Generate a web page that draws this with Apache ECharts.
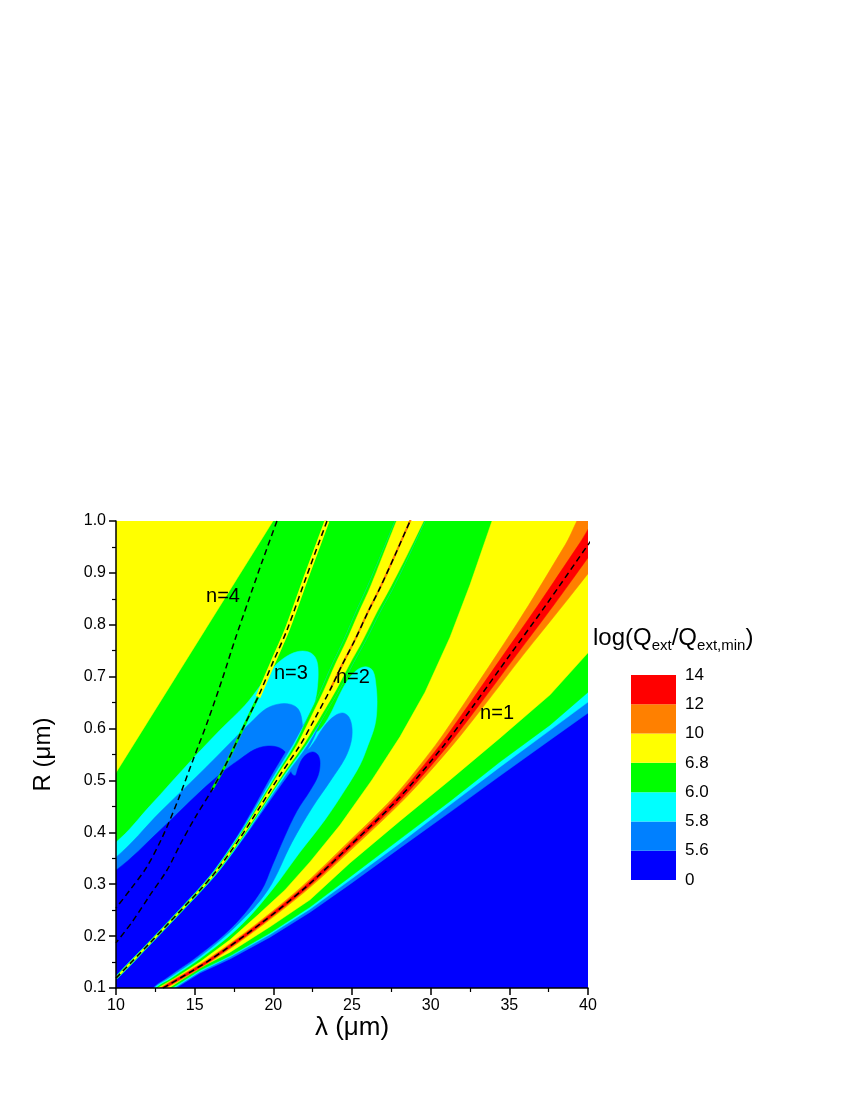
<!DOCTYPE html>
<html>
<head>
<meta charset="utf-8">
<script src="https://cdn.jsdelivr.net/npm/echarts@6.0.0/dist/echarts.min.js"></script>
<style>
  html, body { margin: 0; padding: 0; background: #fff; }
  #chart { width: 850px; height: 1100px; }
</style>
</head>
<body>
<div id="chart"></div>
<script>
// colour levels of log(Qext/Qext,min), bottom to top
const levelLabels = ['0', '5.6', '5.8', '6.0', '6.8', '10', '12', '14'];
const levelColors = ['#0000FF', '#0080FF', '#00FFFF', '#00FF00', '#FFFF00', '#FF8000', '#FF0000'];

// contour boundaries, [lambda (um), R (um)]
const ulYellow = [[10, 1.0], [19.98, 1.0], [10, 0.515]];

// lower-right edge of the n=1 ridge (right edge -> bottom)
const lowerMblue = [[40, 0.630], [37.59, 0.578], [34.41, 0.509], [31.23, 0.439], [28.05, 0.370], [24.87, 0.300], [22.33, 0.246], [19.79, 0.198], [17.25, 0.156], [15.34, 0.129], [13.81, 0.1]];
const lowerCyan = [[40, 0.651], [37.59, 0.597], [34.41, 0.526], [31.23, 0.453], [28.05, 0.379], [24.87, 0.308], [22.33, 0.252], [19.79, 0.203], [17.25, 0.160], [15.34, 0.132], [13.69, 0.1]];
const lowerGreen = [[40, 0.670], [37.59, 0.607], [34.41, 0.536], [31.23, 0.460], [28.05, 0.387], [24.87, 0.314], [22.33, 0.256], [19.79, 0.206], [17.25, 0.162], [15.34, 0.134], [13.56, 0.1]];
const n1YellowLow = [[40, 0.746], [37.59, 0.665], [34.41, 0.582], [31.23, 0.501], [28.05, 0.422], [24.87, 0.341], [22.33, 0.270], [19.79, 0.218], [17.25, 0.169], [15.34, 0.139], [13.37, 0.1]];
const n1YellowHigh = [[33.90, 1.0], [32.50, 0.877], [31.23, 0.776], [29.64, 0.670], [28.05, 0.584], [26.27, 0.501], [24.24, 0.414], [22.33, 0.343], [20.74, 0.289], [19.03, 0.241], [17.25, 0.193], [15.34, 0.150], [13.75, 0.119], [12.67, 0.1]];

// low "valley" lobes between the resonances (closed just outside the frame)
const valleyCyan = [[10, 0.381], [12.16, 0.451], [14.70, 0.536], [16.61, 0.597], [18.20, 0.645], [19.15, 0.682], [19.92, 0.715], [20.68, 0.736], [21.50, 0.748], [22.20, 0.748], [22.65, 0.738], [22.84, 0.717], [22.78, 0.674], [22.52, 0.636], [22.33, 0.605],
  [22.71, 0.593], [23.16, 0.605], [23.73, 0.634], [24.24, 0.667], [24.75, 0.694], [25.32, 0.713], [25.89, 0.719], [26.33, 0.711], [26.53, 0.682], [26.59, 0.645], [26.46, 0.607], [26.02, 0.568], [25.51, 0.530], [24.56, 0.482], [23.28, 0.424], [21.70, 0.362], [19.92, 0.289], [17.95, 0.221], [15.59, 0.162], [13.50, 0.119], [12.54, 0.1],
  [12.42, 0.077], [9.30, 0.077], [9.30, 0.381]];
const valleyMblue = [[10, 0.352], [12.80, 0.439], [15.34, 0.514], [16.17, 0.539], [17.56, 0.582], [18.71, 0.616], [19.53, 0.638], [20.30, 0.647], [21.06, 0.647], [21.57, 0.638], [21.82, 0.616], [21.82, 0.588], [21.70, 0.568],
  [22.14, 0.559], [22.59, 0.574], [22.97, 0.593], [23.47, 0.613], [23.98, 0.626], [24.43, 0.630], [24.81, 0.622], [25.00, 0.601], [24.94, 0.574], [24.56, 0.543], [23.67, 0.501], [22.46, 0.447], [21.19, 0.381], [19.66, 0.289], [17.69, 0.221], [15.40, 0.162], [13.34, 0.119], [12.42, 0.1],
  [12.29, 0.077], [9.30, 0.077], [9.30, 0.352]];
const valleyBlue = [[10, 0.327], [12.80, 0.404], [15.34, 0.478], [16.93, 0.520], [17.88, 0.541], [18.77, 0.559], [19.53, 0.566], [20.30, 0.564], [20.81, 0.553], [21.06, 0.534], [21.12, 0.516],
  [21.38, 0.509], [21.57, 0.524], [21.82, 0.541], [22.14, 0.551], [22.52, 0.555], [22.84, 0.549], [22.97, 0.534], [22.84, 0.509], [22.33, 0.480], [21.50, 0.441], [20.68, 0.389], [19.92, 0.335], [19.22, 0.287], [17.50, 0.221], [15.21, 0.162], [13.18, 0.119], [12.35, 0.1],
  [12.22, 0.077], [9.30, 0.077], [9.30, 0.327]];

// resonance lines (dashed) and their ridge half-widths in lambda
const n1Line = [[12.99, 0.100], [15.97, 0.154], [19.15, 0.223], [22.01, 0.293], [24.87, 0.374], [28.05, 0.468], [30.85, 0.568], [32.69, 0.643], [35.04, 0.742], [37.33, 0.838], [40.00, 0.954], [42.03, 1.040]];
const n1Orange = [0.19, 0.22, 0.25, 0.29, 0.35, 0.41, 0.55, 0.68, 0.85, 1.10, 1.45, 1.75];
const n1Red = [0.10, 0.11, 0.13, 0.14, 0.17, 0.21, 0.27, 0.34, 0.42, 0.50, 0.60, 0.70];

const n2Line = [[10.00, 0.119], [12.16, 0.187], [15.34, 0.289], [16.42, 0.327], [17.88, 0.389], [19.15, 0.449], [20.42, 0.510], [21.70, 0.568], [22.65, 0.620], [23.60, 0.674], [24.36, 0.722], [25.19, 0.771], [26.02, 0.825], [26.78, 0.871], [27.73, 0.934], [28.69, 1.0], [29.20, 1.035]];
const n2Yellow = [0.05, 0.06, 0.06, 0.07, 0.08, 0.11, 0.15, 0.20, 0.29, 0.38, 0.45, 0.51, 0.57, 0.64, 0.76, 0.86, 0.89];
const n2Green = [0.08, 0.09, 0.10, 0.11, 0.14, 0.18, 0.24, 0.35, 0.48, 0.57, 0.64, 0.70, 0.76, 0.83, 0.89, 0.95, 1.02];
const n2Cyan = [0.10, 0.11, 0.13, 0.15, 0.19, 0.25, 0.35, 0.45, 0.48, 0.57, 0.64, 0.70, 0.76, 0.83, 0.89, 0.95, 1.02];
const n2Mblue = [0.12, 0.13, 0.15, 0.18, 0.24, 0.35, 0.51, 0.64, 0.48, 0.57, 0.64, 0.70, 0.76, 0.83, 0.89, 0.95, 1.02];

const n3Line = [[23.41, 1.0], [22.14, 0.896], [20.87, 0.790], [19.98, 0.728], [19.03, 0.661], [18.01, 0.597], [17.12, 0.539], [16.10, 0.482], [15.02, 0.428], [14.07, 0.376], [13.24, 0.327], [12.16, 0.279], [11.02, 0.227], [10.00, 0.187]];
const n4Line = [[20.23, 1.0], [19.28, 0.921], [18.39, 0.844], [17.56, 0.771], [16.74, 0.694], [15.85, 0.616], [14.89, 0.539], [13.94, 0.462], [12.92, 0.389], [11.91, 0.331], [10.89, 0.289], [10.00, 0.254]];

const modeLabels = ['n=1', 'n=2', 'n=3', 'n=4'];
const labelSpots = [[34.22, 0.630], [25.06, 0.699], [21.12, 0.707], [16.80, 0.854]];

const [blue, mblue, cyan, green, yellow, orange, red] = levelColors;
const FONT = 'Liberation Sans, Arial, sans-serif';

// polygon between line-offset edges
function band(line, half) {
  const left = line.map((p, i) => [p[0] - half[i], p[1]]);
  const right = line.map((p, i) => [p[0] + half[i], p[1]]).reverse();
  return left.concat(right);
}

function area(pts, color, z, smooth) {
  return {
    type: 'custom',
    clip: true,
    silent: true,
    animation: false,
    z: z,
    data: pts,
    encode: { x: 0, y: 1 },
    renderItem: function (params, api) {
      if (params.dataIndex !== 0) return null;
      return {
        type: 'polygon',
        shape: { points: pts.map(p => api.coord(p)), smooth: smooth || 0 },
        style: { fill: color, stroke: color, lineWidth: 0.5 }
      };
    }
  };
}

function curve(pts, color, width, dash, z) {
  return {
    type: 'line',
    data: pts,
    symbol: 'none',
    smooth: 0.3,
    silent: true,
    animation: false,
    clip: true,
    z: z,
    lineStyle: { color: color, width: width, type: dash || 'solid' }
  };
}

const chart = echarts.init(document.getElementById('chart'));

const option = {
  backgroundColor: '#fff',
  animation: false,
  textStyle: { fontFamily: FONT },
  grid: [
    { left: 116, right: 262, top: 521, bottom: 112, show: true, backgroundColor: blue, borderWidth: 0 },
    { left: 631, width: 45, top: 675, height: 205 }
  ],
  xAxis: [
    {
      type: 'value', min: 10, max: 40, interval: 5, z: 50,
      name: 'λ (μm)', nameLocation: 'middle', nameGap: 19,
      nameTextStyle: { fontSize: 26, color: '#000', fontFamily: FONT },
      axisLine: { onZero: false, lineStyle: { color: '#000', width: 1.5 } },
      axisTick: { inside: false, length: 7, lineStyle: { color: '#000', width: 1.5 } },
      minorTick: { show: true, splitNumber: 2, length: 4, lineStyle: { color: '#000', width: 1.2 } },
      axisLabel: { fontSize: 16, color: '#000', margin: 10, fontFamily: FONT },
      splitLine: { show: false }
    },
    { gridIndex: 1, type: 'value', min: 0, max: 1, show: false }
  ],
  yAxis: [
    {
      type: 'value', min: 0.1, max: 1.0, interval: 0.1, z: 50,
      name: 'R (μm)', nameLocation: 'middle', nameGap: 61, nameRotate: 90,
      nameTextStyle: { fontSize: 24, color: '#000', fontFamily: FONT },
      axisLine: { onZero: false, lineStyle: { color: '#000', width: 1.5 } },
      axisTick: { inside: false, length: 7, lineStyle: { color: '#000', width: 1.5 } },
      minorTick: { show: true, splitNumber: 2, length: 4, lineStyle: { color: '#000', width: 1.2 } },
      axisLabel: { fontSize: 16, color: '#000', margin: 10, fontFamily: FONT, formatter: v => v.toFixed(1) },
      splitLine: { show: false }
    },
    {
      gridIndex: 1, type: 'value', min: 0, max: 7, interval: 1, position: 'right',
      axisLine: { show: false }, axisTick: { show: false }, splitLine: { show: false },
      axisLabel: { fontSize: 17, color: '#000', margin: 9, fontFamily: FONT, formatter: v => levelLabels[v] }
    }
  ],
  graphic: [{
    type: 'text', left: 593, top: 626, z: 100,
    style: {
      text: '{a|log(Q}{s|ext}{a|/Q}{s|ext,min}{a|)}',
      fill: '#000',
      rich: {
        a: { fontSize: 24, fontFamily: FONT, fill: '#000' },
        s: { fontSize: 15, fontFamily: FONT, fill: '#000', padding: [16, 0, 0, 0] }
      }
    }
  }],
  series: [
    area([[10, 1], [40, 1]].concat(lowerMblue, [[10, 0.1]]), mblue, 1),
    area([[10, 1], [40, 1]].concat(lowerCyan, [[10, 0.1]]), cyan, 2),
    area([[10, 1], [40, 1]].concat(lowerGreen, [[10, 0.1]]), green, 3),
    area(ulYellow, yellow, 4),
    area(valleyCyan, cyan, 5, 0.35),
    area(valleyMblue, mblue, 6, 0.35),
    area(valleyBlue, blue, 7, 0.35),
    area(band(n2Line, n2Mblue), mblue, 8, 0.3),
    area(band(n2Line, n2Cyan), cyan, 9, 0.3),
    area(band(n2Line, n2Green), green, 10, 0.3),
    area(band(n2Line, n2Yellow), yellow, 11, 0.3),
    area([[40, 1]].concat(n1YellowHigh, n1YellowLow.slice().reverse()), yellow, 12),
    area(band(n1Line, n1Orange), orange, 13, 0.3),
    area(band(n1Line, n1Red), red, 14, 0.3),
    curve(n2Line.slice(9), orange, 2, 'solid', 15),
    curve(n3Line.slice(0, 5), yellow, 5, 'solid', 16),
    curve(n3Line.slice(4, 8), green, 2.5, 'solid', 16),
    curve(n1Line, '#000', 1.5, [6, 4], 20),
    curve(n2Line, '#000', 1.5, [6, 4], 20),
    curve(n3Line, '#000', 1.5, [6, 4], 20),
    curve(n4Line, '#000', 1.5, [6, 4], 20),
    {
      type: 'custom', data: labelSpots, encode: { x: 0, y: 1 }, z: 25, silent: true, animation: false,
      renderItem: function (params, api) {
        const p = api.coord([api.value(0), api.value(1)]);
        return {
          type: 'text', x: p[0], y: p[1],
          style: {
            text: modeLabels[params.dataIndex], fill: '#000', font: '20px ' + FONT,
            align: 'center', verticalAlign: 'middle'
          }
        };
      }
    },
    {
      type: 'custom', xAxisIndex: 1, yAxisIndex: 1, silent: true, animation: false,
      data: levelColors.map((c, i) => [i]),
      encode: { y: 0 },
      renderItem: function (params, api) {
        const i = params.dataIndex;
        const p0 = api.coord([0, i + 1]);
        const p1 = api.coord([1, i]);
        return {
          type: 'rect',
          shape: { x: p0[0], y: p0[1], width: p1[0] - p0[0], height: p1[1] - p0[1] },
          style: { fill: levelColors[i] }
        };
      }
    }
  ]
};

chart.setOption(option);
</script>
</body>
</html>
